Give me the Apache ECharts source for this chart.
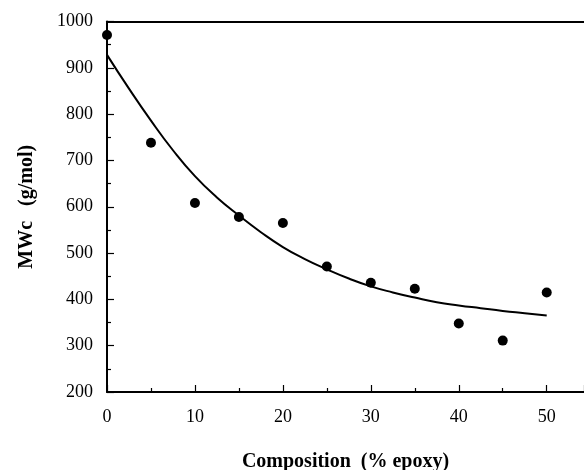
<!DOCTYPE html>
<html>
<head>
<meta charset="utf-8">
<script src="https://cdn.jsdelivr.net/npm/echarts@6/dist/echarts.min.js"></script>
<style>html,body{margin:0;padding:0;background:#fff}#c{width:584px;height:470px}</style>
</head>
<body>
<div id="c"></div>
<script>
var compositionPts = [0, 5, 10, 15, 20, 25, 30, 35, 40, 45, 50];
var mwcMeasured = [971, 738, 608, 578, 565, 471, 436, 423, 348, 311, 415];
var fitX = [0, 2.5, 5, 7.5, 10, 12.5, 15, 17.5, 20, 22.5, 25, 27.5, 30, 32.5, 35, 37.5, 40, 42.5, 45, 47.5, 50];
var fitY = [928, 855, 786, 722, 666, 620, 581, 545, 513, 487, 465, 445, 428, 415, 404, 394, 387, 381, 375, 370, 365];
var xTicks = [0, 10, 20, 30, 40, 50];
var yTicks = [200, 300, 400, 500, 600, 700, 800, 900, 1000];

var chart = echarts.init(document.getElementById('c'));
var font = '"Liberation Serif", "Times New Roman", serif';
chart.setOption({
  animation: false,
  grid: {left: 107, right: 0, top: 21.5, bottom: 78, containLabel: false, outerBoundsMode: 'none'},
  xAxis: [{
    type: 'value', min: 0, max: 54.24, interval: 10,
    name: 'Composition  (% epoxy)', nameLocation: 'middle', nameGap: 60,
    nameTextStyle: {fontFamily: font, fontWeight: 'bold', fontSize: 20, color: '#000'},
    axisLine: {show: true, onZero: false, lineStyle: {color: '#000', width: 2}},
    axisTick: {show: true, inside: true, length: 7, lineStyle: {color: '#000', width: 1.2}},
    minorTick: {show: true, splitNumber: 2, length: 4, lineStyle: {color: '#000', width: 1.2}},
    axisLabel: {fontFamily: font, fontSize: 18, color: '#000', margin: 16,
      formatter: function (v) { return xTicks.indexOf(v) >= 0 ? String(v) : ''; }},
    splitLine: {show: false}
  }, {
    type: 'value', position: 'top', min: 0, max: 54.24,
    axisLine: {show: true, lineStyle: {color: '#000', width: 2}},
    axisTick: {show: false}, axisLabel: {show: false}, splitLine: {show: false}
  }],
  yAxis: {
    type: 'value', min: 200, max: 1000, interval: 100,
    name: 'MWc   (g/mol)', nameLocation: 'middle', nameGap: 70,
    nameTextStyle: {fontFamily: font, fontWeight: 'bold', fontSize: 20, color: '#000'},
    axisLine: {show: true, onZero: false, lineStyle: {color: '#000', width: 2}},
    axisTick: {show: true, inside: true, length: 7, lineStyle: {color: '#000', width: 1.2}},
    minorTick: {show: true, splitNumber: 2, length: 4, lineStyle: {color: '#000', width: 1.2}},
    axisLabel: {fontFamily: font, fontSize: 18, color: '#000', margin: 14,
      formatter: function (v) { return yTicks.indexOf(v) >= 0 ? String(v) : ''; }},
    splitLine: {show: false}
  },
  series: [{
    type: 'line', smooth: true, showSymbol: false,
    data: fitX.map(function (x, i) { return [x, fitY[i]]; }),
    lineStyle: {color: '#000', width: 2}
  }, {
    type: 'scatter', symbol: 'circle', symbolSize: 10,
    data: compositionPts.map(function (x, i) { return [x, mwcMeasured[i]]; }),
    itemStyle: {color: '#000', opacity: 1}
  }]
});
</script>
</body>
</html>
